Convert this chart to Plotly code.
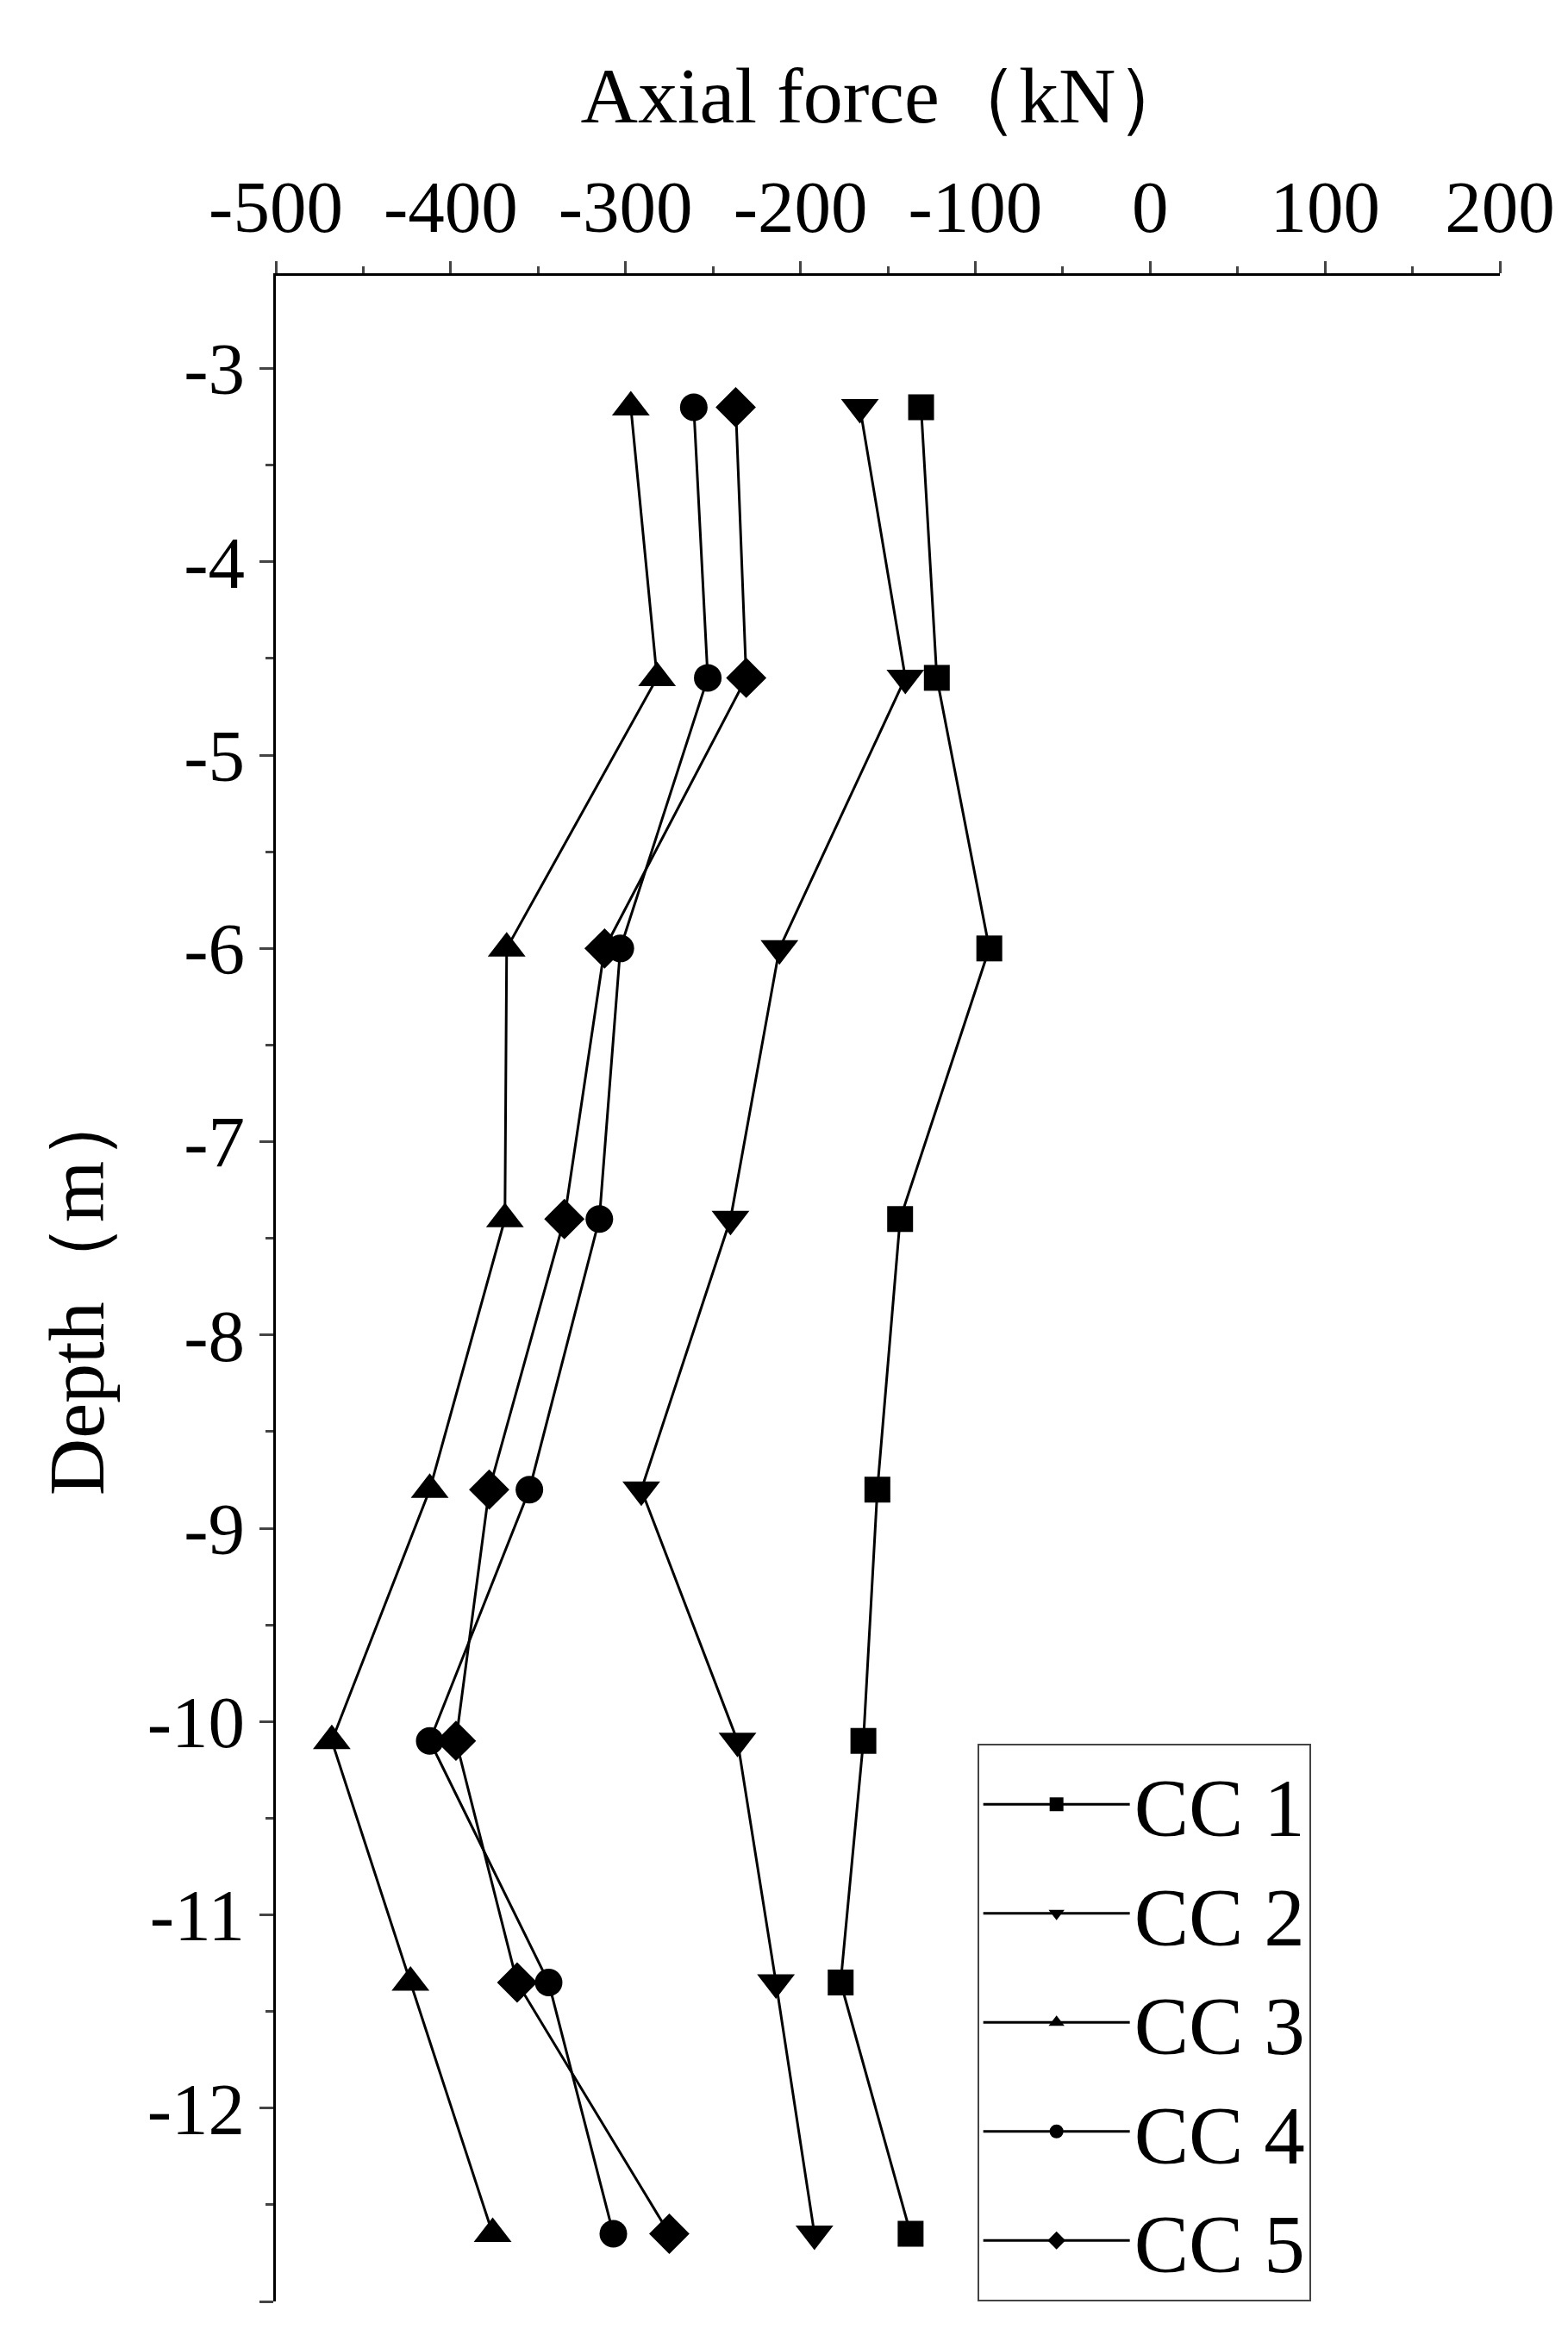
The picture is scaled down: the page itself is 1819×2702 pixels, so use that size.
import plotly.graph_objects as go

depth = [-3.2, -4.6, -6.0, -7.4, -8.8, -10.1, -11.35, -12.65]
cc1 = [-131, -122, -92, -143, -156, -164, -177, -137]
cc2 = [-166, -140, -212, -240, -291, -236, -214, -192]
cc3 = [-297, -282, -368, -369, -412, -468, -423, -376]
cc4 = [-261, -253, -303, -315, -355, -412, -344, -307]
cc5 = [-237, -231, -312, -335, -378, -397, -362, -275]
names = ["CC 1", "CC 2", "CC 3", "CC 4", "CC 5"]
symbols = ["square", "triangle-down", "triangle-up", "circle", "diamond"]
sizes = [30, 38, 38, 32, 36]
xticks = [-500, -400, -300, -200, -100, 0, 100, 200]
yticks = [-3, -4, -5, -6, -7, -8, -9, -10, -11, -12, -13]

fig = go.Figure()
for n, s, sz, v in zip(names, symbols, sizes, [cc1, cc2, cc3, cc4, cc5]):
    fig.add_trace(go.Scatter(x=v, y=depth, name=n, mode="lines+markers",
                             line=dict(color="black", width=3),
                             marker=dict(symbol=s, size=sz, color="black")))

fnt = dict(family="Liberation Serif, Times New Roman, serif", size=85, color="black")
fig.update_layout(
    width=1819, height=2702, plot_bgcolor="white", paper_bgcolor="white",
    margin=dict(l=312, r=87, t=312, b=40), font=fnt,
    xaxis=dict(side="top", range=[-500, 200], tickvals=xticks, ticktext=[str(t) for t in xticks],
               showgrid=False, zeroline=False,
               showline=True, linecolor="black", linewidth=3, ticks="outside", ticklen=14,
               tickwidth=3, minor=dict(ticks="outside", ticklen=8, dtick=50, tickwidth=3),
               title=dict(text="Axial force（kN）", font=dict(size=92), standoff=20),
               tickfont=dict(size=85)),
    yaxis=dict(range=[-13, -2.52], tickvals=yticks, ticktext=[str(t) for t in yticks],
               showgrid=False, zeroline=False,
               showline=True, linecolor="black", linewidth=3, ticks="outside", ticklen=16,
               tickwidth=3, minor=dict(ticks="outside", ticklen=9, dtick=0.5, tickwidth=3),
               title=dict(text="Depth（m）", font=dict(size=92), standoff=20),
               tickfont=dict(size=85)),
    legend=dict(x=0.573, xanchor="left", y=0.0, yanchor="bottom", bordercolor="#444",
                borderwidth=2, font=dict(size=95), itemwidth=170, tracegroupgap=0,
                bgcolor="white"),
)
fig.write_html("out.html")
